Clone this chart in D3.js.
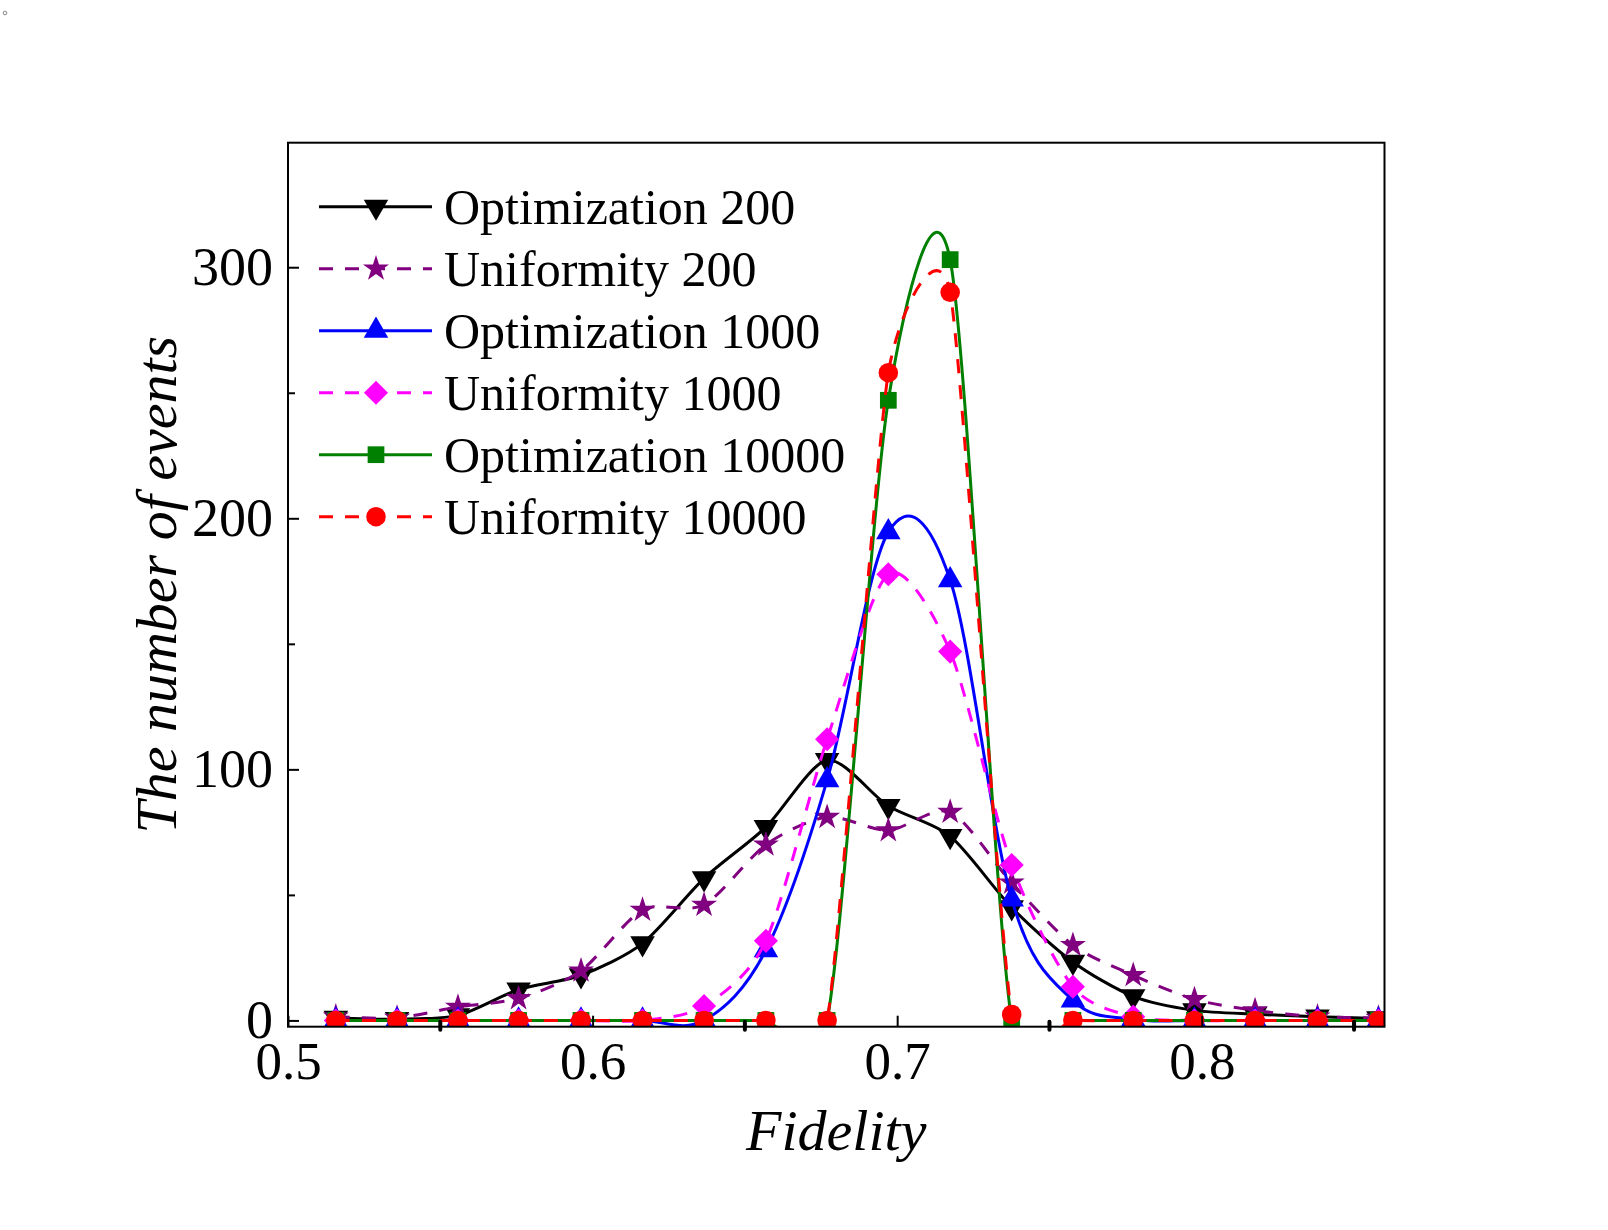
<!DOCTYPE html>
<html>
<head>
  <meta charset="utf-8" />
  <title>Fidelity distribution</title>
  <script src="https://cdn.jsdelivr.net/npm/d3@7"></script>
  <style>
    body { margin: 0; background: #fff; }
    svg { display: block; }
    text { font-family: "Liberation Serif", "Times New Roman", serif; fill: #000; }
  </style>
</head>
<body>
  <svg id="chart" width="1608" height="1230"></svg>
  <script>
    // bin centres
    var fidelity = [0.5157, 0.5358, 0.5558, 0.5757, 0.5962, 0.6164, 0.6366, 0.6569, 0.6770,
                    0.6971, 0.7174, 0.7376, 0.7577, 0.7775, 0.7976, 0.8175, 0.8380, 0.8580];

    var opt200  = [1, 0.5, 2, 12.3, 18, 30.7, 56.6, 77, 103.7, 85.4, 73.4, 45, 23.3, 9.6, 4, 2.5, 1.5, 0.8];
    var uni200  = [1.5, 1, 5.4, 8.8, 19.8, 44, 46, 70, 81, 75.7, 83, 54.8, 30, 18, 8.4, 4, 1.5, 1];
    var opt1000 = [0, 0, 0, 0, 0, 0, 0, 28, 95.7, 194.5, 175.4, 48.2, 8, 0.5, 0, 0, 0, 0];
    var uni1000 = [0, 0, 0, 0, 0, 0, 5.7, 31.7, 112, 177.7, 146.9, 61.9, 13.4, 1.5, 0, 0, 0, 0];
    var opt10000 = [0, 0, 0, 0, 0, 0, 0, 0, 0, 247, 303, 0, 0, 0, 0, 0, 0, 0];
    var uni10000 = [0, 0, 0, 0, 0, 0, 0, 0, 0, 258, 290, 2.4, 0, 0, 0, 0, 0, 0];

    var seriesNames = ["Optimization 200", "Uniformity 200", "Optimization 1000",
                       "Uniformity 1000", "Optimization 10000", "Uniformity 10000"];
    var xTicks = [0.5, 0.6, 0.7, 0.8];
    var xMinorTicks = [0.55, 0.65, 0.75, 0.85];
    var yTicks = [0, 100, 200, 300];
    var yMinorTicks = [50, 150, 250];

    // look of each series
    var looks = [
      { values: opt200,   color: "#000000", dash: null,    symbol: d3.symbolTriangle, size: 260, rotate: 180, tension: 0.2 },
      { values: uni200,   color: "#800080", dash: "14,12", symbol: d3.symbolStar,     size: 210, rotate: 0,   tension: 0.2 },
      { values: opt1000,  color: "#0000ff", dash: null,    symbol: d3.symbolTriangle, size: 260, rotate: 0,   tension: 0 },
      { values: uni1000,  color: "#ff00ff", dash: "14,12", symbol: d3.symbolSquare,   size: 290, rotate: 45,  tension: 0.2 },
      { values: opt10000, color: "#008000", dash: null,    symbol: d3.symbolSquare,   size: 280, rotate: 0,   tension: 0.2 },
      { values: uni10000, color: "#ff0000", dash: "14,12", symbol: d3.symbolCircle,   size: 300, rotate: 0,   tension: 0.45 }
    ];

    var plotLeft = 288, plotRight = 1384.5, plotTop = 142.7, plotBottom = 1026.7;

    var svg = d3.select("#chart");

    var x = d3.scaleLinear().domain([0.5, 0.86]).range([plotLeft, plotRight]);
    var y = d3.scaleLinear().domain([-2.5, 349.6]).range([plotBottom, plotTop]);

    // tiny stray mark in the corner of the original
    svg.append("circle").attr("cx", 5).attr("cy", 13).attr("r", 1.8)
      .attr("fill", "none").attr("stroke", "#888").attr("stroke-width", 1);

    svg.append("clipPath").attr("id", "plotclip")
      .append("rect")
      .attr("x", plotLeft).attr("y", plotTop)
      .attr("width", plotRight - plotLeft).attr("height", plotBottom - plotTop);

    var plot = svg.append("g").attr("clip-path", "url(#plotclip)");

    looks.forEach(function (s) {
      var pts = fidelity.map(function (f, i) { return [f, s.values[i]]; });
      var line = d3.line()
        .x(function (d) { return x(d[0]); })
        .y(function (d) { return y(d[1]); })
        .curve(d3.curveCardinal.tension(s.tension));

      plot.append("path")
        .datum(pts)
        .attr("d", line)
        .attr("fill", "none")
        .attr("stroke", s.color)
        .attr("stroke-width", 3)
        .attr("stroke-dasharray", s.dash);

      var sym = d3.symbol().type(s.symbol).size(s.size);
      plot.selectAll(null)
        .data(pts)
        .enter().append("path")
        .attr("d", sym)
        .attr("transform", function (d) {
          return "translate(" + x(d[0]) + "," + y(d[1]) + ") rotate(" + s.rotate + ")";
        })
        .attr("fill", s.color);
    });

    // axes
    var xAxis = svg.append("g")
      .attr("transform", "translate(0," + plotBottom + ")")
      .call(d3.axisBottom(x).tickValues(xTicks).tickFormat(d3.format(".1f"))
        .tickSizeInner(-11).tickSizeOuter(0).tickPadding(15));
    xAxis.select(".domain").remove();
    xAxis.selectAll("text").style("font-size", "53px");
    xAxis.selectAll("line").attr("stroke-width", 2);

    svg.append("g").selectAll("line")
      .data(xMinorTicks)
      .enter().append("line")
      .attr("x1", function (d) { return x(d); })
      .attr("x2", function (d) { return x(d); })
      .attr("y1", plotBottom - 5).attr("y2", plotBottom + 3)
      .attr("stroke", "#000").attr("stroke-width", 4).attr("stroke-linecap", "round");

    var yAxis = svg.append("g")
      .attr("transform", "translate(" + plotLeft + ",0)")
      .call(d3.axisLeft(y).tickValues(yTicks)
        .tickSizeInner(-11).tickSizeOuter(0).tickPadding(15));
    yAxis.select(".domain").remove();
    yAxis.selectAll("text").style("font-size", "54px");
    yAxis.selectAll("line").attr("stroke-width", 2);

    var yMinor = svg.append("g")
      .attr("transform", "translate(" + plotLeft + ",0)")
      .call(d3.axisLeft(y).tickValues(yMinorTicks).tickFormat("")
        .tickSizeInner(-7).tickSizeOuter(0));
    yMinor.select(".domain").remove();
    yMinor.selectAll("line").attr("stroke-width", 2);

    svg.append("rect")
      .attr("x", plotLeft).attr("y", plotTop)
      .attr("width", plotRight - plotLeft).attr("height", plotBottom - plotTop)
      .attr("fill", "none").attr("stroke", "#000").attr("stroke-width", 2);

    // axis titles
    svg.append("text")
      .attr("x", (plotLeft + plotRight) / 2).attr("y", 1150)
      .attr("text-anchor", "middle")
      .style("font-size", "58px").style("font-style", "italic")
      .text("Fidelity");

    svg.append("text")
      .attr("transform", "translate(176," + (plotTop + plotBottom) / 2 + ") rotate(-90)")
      .attr("text-anchor", "middle")
      .style("font-size", "58px").style("font-style", "italic")
      .text("The number of events");

    // legend
    var legend = svg.append("g");
    looks.forEach(function (s, i) {
      var ry = 206.7 + i * 62;
      var row = legend.append("g").attr("transform", "translate(0," + ry + ")");
      row.append("line")
        .attr("x1", 319).attr("x2", 432).attr("y1", 0).attr("y2", 0)
        .attr("stroke", s.color).attr("stroke-width", 3)
        .attr("stroke-dasharray", s.dash);
      row.append("path")
        .attr("d", d3.symbol().type(s.symbol).size(s.size))
        .attr("transform", "translate(376,0) rotate(" + s.rotate + ")")
        .attr("fill", s.color);
      row.append("text")
        .attr("x", 444).attr("y", 17)
        .style("font-size", "50px")
        .text(seriesNames[i]);
    });
  </script>
</body>
</html>
